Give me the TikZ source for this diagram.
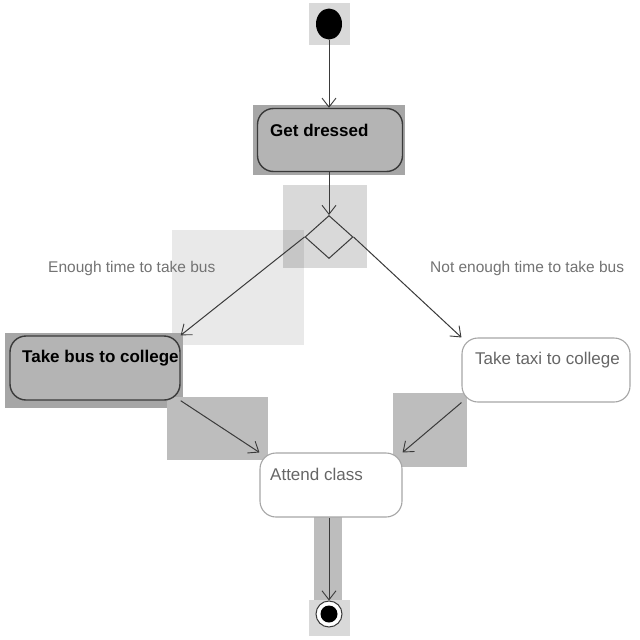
\documentclass[tikz,border=0pt]{standalone}
\usepackage{fontspec}
\setmainfont{Liberation Sans}
\usetikzlibrary{arrows.meta,calc,shapes.geometric}
\definecolor{hlA}{HTML}{A6A6A6}
\definecolor{hlB}{HTML}{BDBDBD}
\definecolor{hlC}{HTML}{D9D9D9}
\definecolor{hlD}{HTML}{E9E9E9}
\definecolor{boxfill}{HTML}{B4B4B4}
\definecolor{edgecol}{HTML}{3A3A3A}
\tikzset{
  actbox/.style={draw=edgecol, line width=1.4pt, rounded corners=16pt, inner sep=0pt},
  busy/.style={actbox, fill=boxfill},
  idle/.style={actbox, draw=gray!70, line width=1.1pt, fill=white},
  boldtxt/.style={anchor=west, inner sep=0pt, font=\fontsize{17}{20}\selectfont\bfseries, text=black},
  plaintxt/.style={anchor=west, inner sep=0pt, font=\fontsize{17}{20}\selectfont, text=black!60},
  guard/.style={anchor=west, inner sep=0pt, font=\fontsize{15.5}{18}\selectfont, text=black!55},
  flow/.style={draw=edgecol, line width=1pt, -{Straight Barb[length=9pt,width=14pt,line width=0.9pt]}},
}
\begin{document}
\begin{tikzpicture}[x=1pt,y=-1pt]
\useasboundingbox (0,0) rectangle (640,640);
\fill[white] (0,0) rectangle (640,640);

% shaded selection areas
\fill[hlD] (172,230) rectangle (304,345);
\fill[hlC] (283,185) rectangle (367,268);
\fill[hlB!80!hlD] (283,230) rectangle (304,268);
\fill[hlC] (309,3) rectangle (350,45);
\fill[hlA] (253,105) rectangle (405,175);
\fill[hlA] (5,333) rectangle (183,408);
\fill[hlB] (167,397) rectangle (268,460);
\fill[hlB] (393,393) rectangle (467,467);
\fill[hlB] (314,517) rectangle (342,600);
\fill[hlC] (309,600) rectangle (350,636);

% start and end markers
\node[ellipse, fill=black, minimum width=26pt, minimum height=31pt, inner sep=0pt] (start) at (329,24) {};
\node[circle, draw=edgecol, line width=1pt, fill=white, minimum size=26pt, inner sep=0pt] (stop) at (329,614) {};
\node[circle, fill=black, minimum size=17pt, inner sep=0pt] (stopcore) at (329,614) {};

% activities
\node[busy, minimum width=145pt, minimum height=63pt] (dress) at (330,140) {};
\node[boldtxt] (dresslbl) at (270,130) {Get dressed};

\node[diamond, draw=edgecol, line width=1pt, minimum width=48pt, minimum height=43pt, inner sep=0pt] (choice) at (329,237) {};

\node[busy, minimum width=170pt, minimum height=64pt] (bus) at (95,368) {};
\node[boldtxt] (buslbl) at (22,358) {Take bus to college};

\node[idle, minimum width=168pt, minimum height=64pt] (taxi) at (546,370) {};
\node[plaintxt] (taxilbl) at (475,360) {Take taxi to college};

\node[idle, minimum width=142pt, minimum height=64pt] (attend) at (331,485) {};
\node[plaintxt] (attendlbl) at (270,474) {Attend class};

% guard labels
\node[guard] (enough) at (48,268) {Enough time to take bus};
\node[guard] (notenough) at (430,268) {Not enough time to take bus};

% control flow
\draw[flow] (start.south) -- (start.south |- dress.north);
\draw[flow] (dress.south -| choice.north) -- (choice.north);
\draw[flow] (choice.west) -- (bus.north east);
\draw[flow] (choice.east) -- (taxi.north west);
\draw[flow] (bus.south east) -- (attend.north west);
\draw[flow] (taxi.south west) -- (attend.north east);
\draw[flow] (attend.south -| stop.north) -- (stop.north);
\end{tikzpicture}
\end{document}
